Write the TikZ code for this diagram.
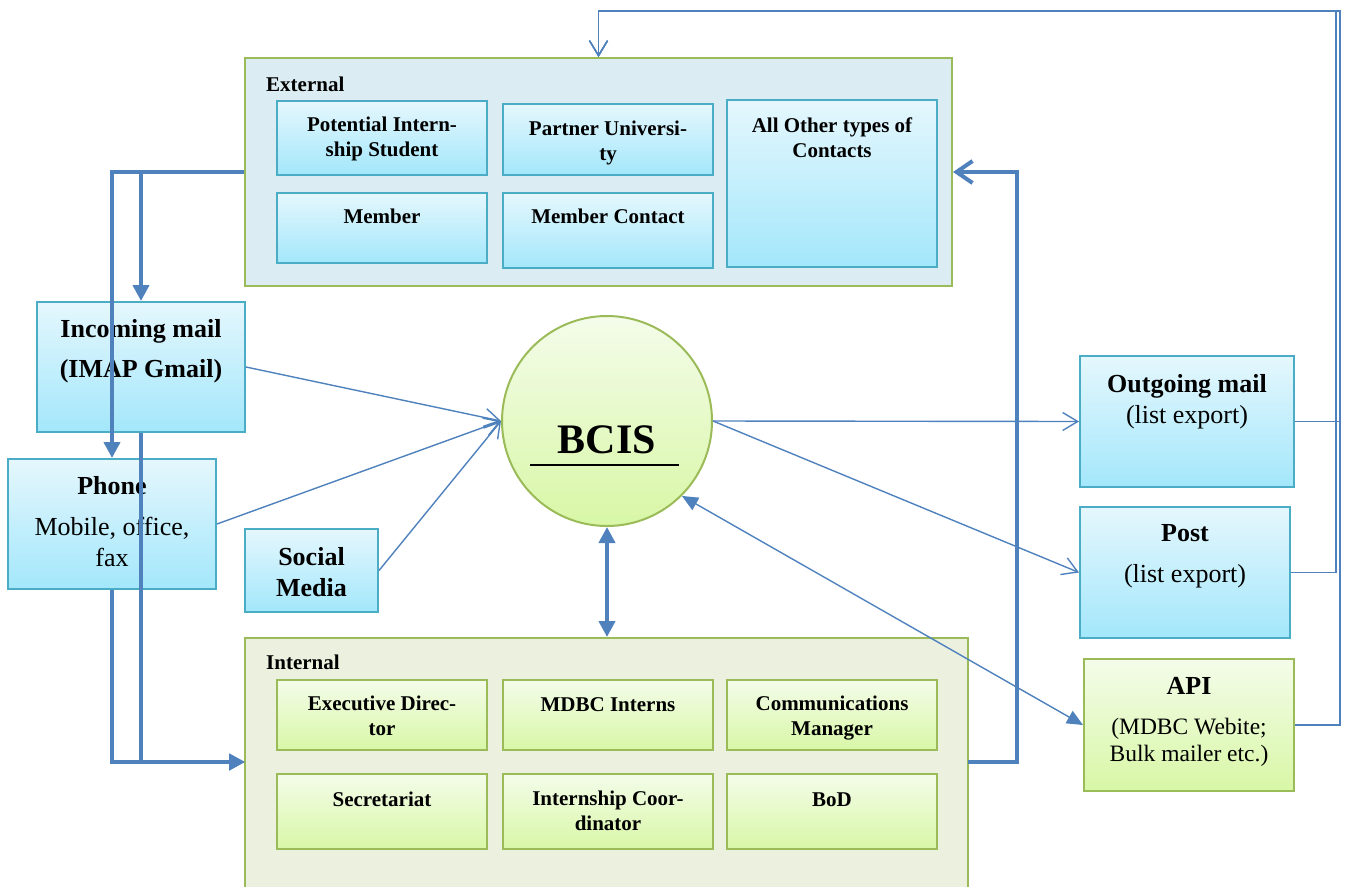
\documentclass[tikz,border=0pt]{standalone}
\usepackage{fontspec}
\setmainfont{Liberation Serif}
\usetikzlibrary{arrows.meta}

\definecolor{conn}{HTML}{4F81BD}
\definecolor{bluebd}{HTML}{4BACC6}
\definecolor{bluetop}{HTML}{E5F7FD}
\definecolor{bluebot}{HTML}{A3E7FB}
\definecolor{greenbd}{HTML}{9BBB59}
\definecolor{greentop}{HTML}{F4FCEA}
\definecolor{greenbot}{HTML}{D8F7A6}
\definecolor{extfill}{HTML}{DBECF2}
\definecolor{intfill}{HTML}{EBF0DF}

\newcommand\fsmall{\fontsize{21}{25}\selectfont\bfseries}
\newcommand\fbig{\fontsize{26}{31}\selectfont}

% multi-line labels sit on the baseline of their last line
\tikzset{
  group/.style={draw=greenbd, line width=2pt, inner sep=0pt},
  bluebox/.style={draw=bluebd, line width=2pt, top color=bluetop, bottom color=bluebot, inner sep=0pt},
  greenbox/.style={draw=greenbd, line width=2pt, top color=greentop, bottom color=greenbot, inner sep=0pt},
  txt/.style={inner sep=0pt, align=center, anchor=base},
  slim/.style={draw=conn, line width=1.4pt},
  fat/.style={draw=conn, line width=4pt},
  openhead/.style={-{Straight Barb[length=15pt,width=18pt]}},
  fathead/.style={-{Triangle[length=16pt,width=16pt]}},
}

\begin{document}
\begin{tikzpicture}[x=1pt,y=-1pt]
\clip (0,0) rectangle (1346,886);

% ---- group panels ----
\node[group, fill=extfill, minimum width=707, minimum height=228] (ext) at (598.5,172) {};
\node[group, fill=intfill, minimum width=723, minimum height=280] (intl) at (606.5,778) {};
\node[txt, anchor=base west, font=\fsmall] (extlbl) at (266,91) {External};
\node[txt, anchor=base west, font=\fsmall] (intlbl) at (266,669) {Internal};

% ---- external contacts ----
\node[bluebox, minimum width=210, minimum height=74]  (pis) at (382,138) {};
\node[bluebox, minimum width=210, minimum height=71]  (pu)  at (608,139.5) {};
\node[bluebox, minimum width=210, minimum height=70]  (mem) at (382,228) {};
\node[bluebox, minimum width=210, minimum height=75]  (mc)  at (608,230.5) {};
\node[bluebox, minimum width=210, minimum height=167] (oth) at (832,183.5) {};
\node[txt, font=\fsmall] (pisT) at (382,156) {Potential Intern-\\ship Student};
\node[txt, font=\fsmall] (puT)  at (608,160) {Partner Universi-\\ty};
\node[txt, font=\fsmall] (memT) at (382,223) {Member};
\node[txt, font=\fsmall] (mcT)  at (608,223) {Member Contact};
\node[txt, font=\fsmall] (othT) at (832,157) {All Other types of\\Contacts};

% ---- internal roles ----
\node[greenbox, minimum width=210, minimum height=70] (ed)  at (382,715) {};
\node[greenbox, minimum width=210, minimum height=70] (mi)  at (608,715) {};
\node[greenbox, minimum width=210, minimum height=70] (cm)  at (832,715) {};
\node[greenbox, minimum width=210, minimum height=75] (sec) at (382,811.5) {};
\node[greenbox, minimum width=210, minimum height=75] (ic)  at (608,811.5) {};
\node[greenbox, minimum width=210, minimum height=75] (bod) at (832,811.5) {};
\node[txt, font=\fsmall] (edT)  at (382,735) {Executive Direc-\\tor};
\node[txt, font=\fsmall] (miT)  at (608,711) {MDBC Interns};
\node[txt, font=\fsmall] (cmT)  at (832,735) {Communications\\Manager};
\node[txt, font=\fsmall] (secT) at (382,806) {Secretariat};
\node[txt, font=\fsmall] (icT)  at (608,830) {Internship Coor-\\dinator};
\node[txt, font=\fsmall] (bodT) at (832,806) {BoD};

% ---- input channels ----
\node[bluebox, minimum width=208, minimum height=130] (inc)    at (141,367) {};
\node[bluebox, minimum width=208, minimum height=130] (phone)  at (112,524) {};
\node[bluebox, minimum width=133, minimum height=83]  (social) at (311.5,570.5) {};
\node[txt, font=\fbig\bfseries] (incT) at (141,377) {Incoming mail\\[9pt](IMAP Gmail)};
\node[txt, font=\fbig] (phoneT) at (112,566) {\textbf{Phone}\\[10pt]Mobile, office,\\fax};
\node[txt, font=\fbig\bfseries] (socialT) at (311.5,596) {Social\\Media};

% ---- central system ----
\node[circle, draw=greenbd, line width=2pt, top color=greentop, bottom color=greenbot,
      minimum size=210, inner sep=0pt] (bcis) at (607,421) {};
\node[txt, font=\fontsize{42}{48}\selectfont\bfseries] (bcisT) at (607,453) {BCIS};
\draw[line width=2.6pt] (530,465) -- (679,465);

% ---- output channels ----
\node[bluebox, minimum width=214, minimum height=131] (out)  at (1187,421.5) {};
\node[bluebox, minimum width=210, minimum height=131] (post) at (1185,572.5) {};
\node[greenbox, minimum width=210, minimum height=132] (api) at (1189,725) {};
\node[txt, font=\fbig] (outT)  at (1187,423) {\textbf{Outgoing mail}\\(list export)};
\node[txt, font=\fbig] (postT) at (1185,582) {\textbf{Post}\\[10pt](list export)};
\node[txt, font=\fbig\bfseries] (apiT) at (1189,694) {API};
\node[txt, font=\fontsize{23.5}{27}\selectfont] (apiS) at (1189,761) {(MDBC Webite;\\Bulk mailer etc.)};

% ---- connectors into the system ----
\draw[slim, openhead] (inc.east) -- (bcis.west);
\draw[slim, openhead] (phone.east) -- (bcis.west);
\draw[slim, openhead] (social.east) -- (bcis.west);
\draw[slim, openhead] (bcis.east) -- (out.west);
\draw[slim, openhead] (bcis.east) -- (post.west);
\draw[slim, {Triangle[length=16pt,width=14pt]}-{Triangle[length=16pt,width=14pt]}] (bcis.-45) -- (api.west);
\draw[fat, {Triangle[length=16pt,width=16pt]}-{Triangle[length=16pt,width=16pt]}] (bcis.south) -- (bcis.south |- intl.north);

% ---- flows between contacts and channels ----
\coordinate (intin) at (245,762);
\coordinate (intout) at (968,762);
\draw[fat, fathead] (ext.west) -| (inc.north);
\draw[fat, fathead] (ext.west) -| (phone.north);
\draw[fat, fathead] (inc.south) |- (intin);
\draw[fat, fathead] (phone.south) |- (intin);
\draw[fat, -{Straight Barb[length=16pt,width=22pt]}] (intout) -- ++(49,0) |- (ext.east);

% ---- feedback from outputs ----
\draw[slim, openhead] (out.east) -| (1340,11) -| (ext.north);
\draw[slim, openhead] (post.east) -| (1336,11) -| (ext.north);
\draw[slim, openhead] (api.east) -| (1340,11) -| (ext.north);
\end{tikzpicture}
\end{document}
